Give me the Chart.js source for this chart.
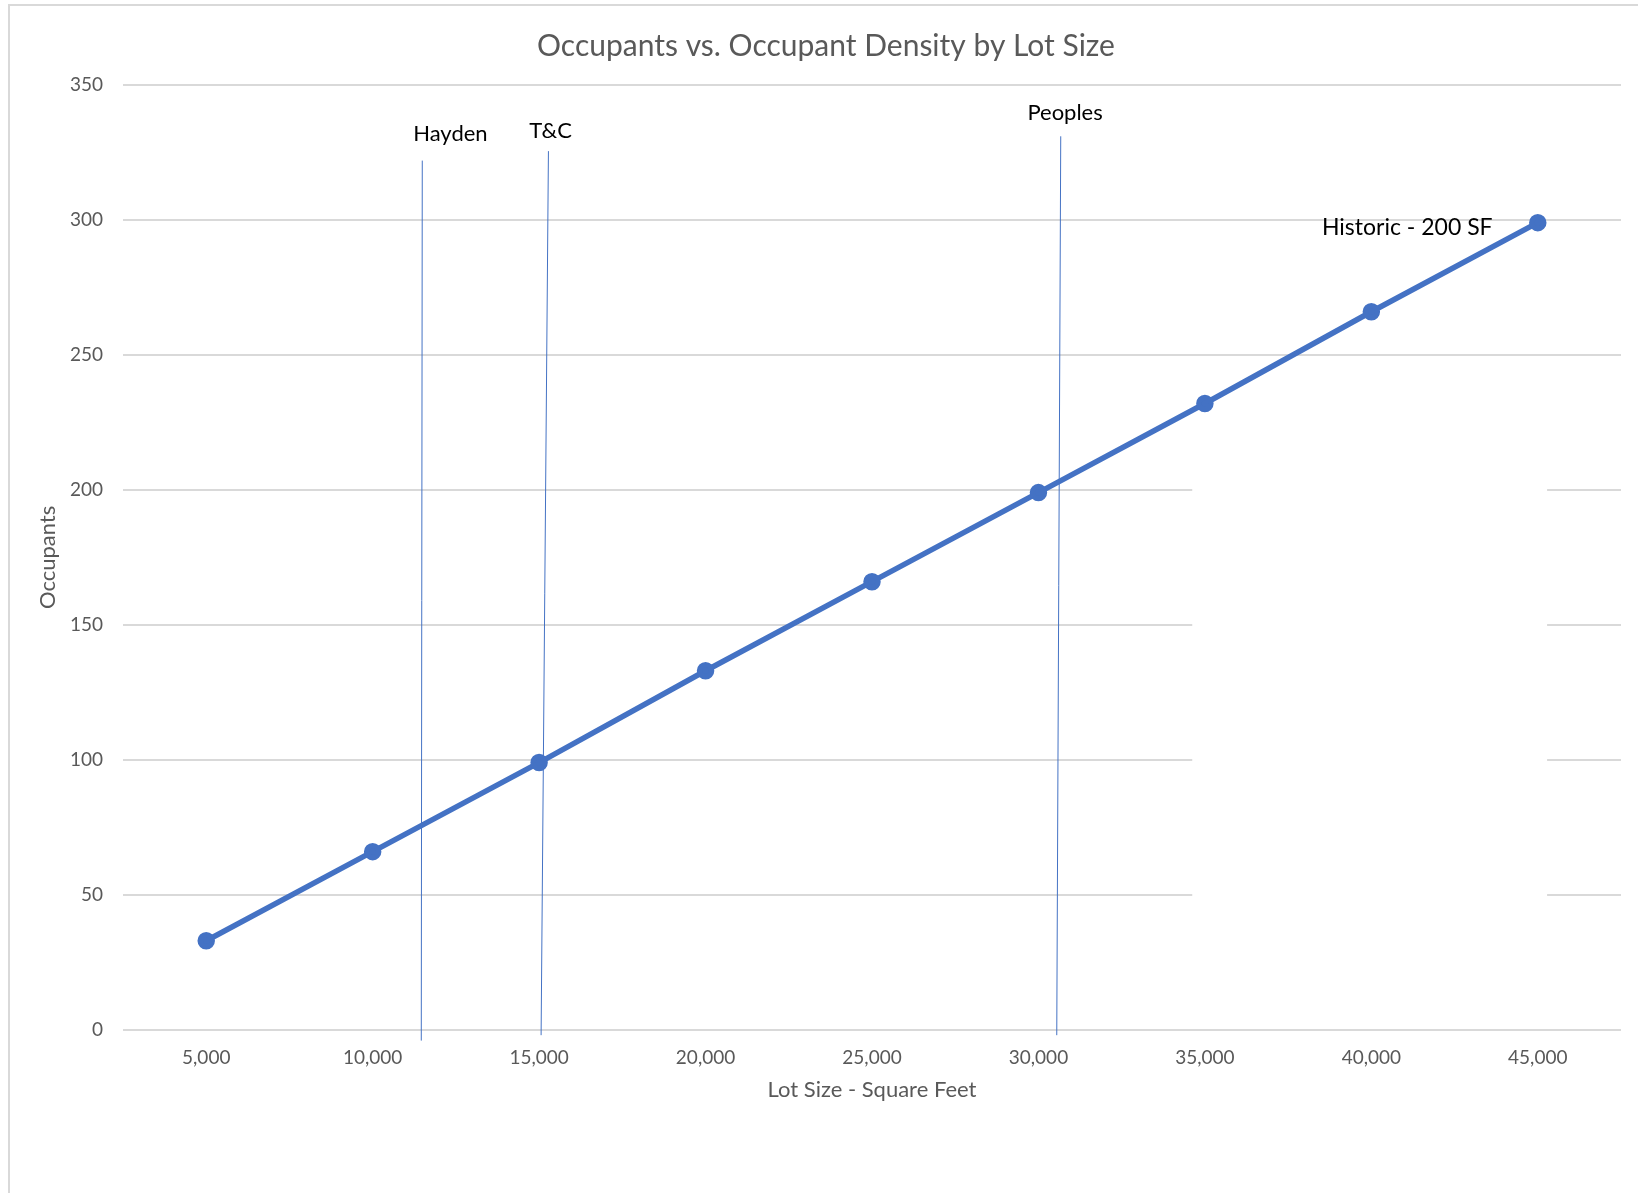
<!DOCTYPE html>
<html lang="en">
<head>
  <meta charset="UTF-8" />
  <title>Occupants vs. Occupant Density by Lot Size</title>
  <script src="https://cdn.jsdelivr.net/npm/chart.js"></script>
  <style>
    html, body {
      margin: 0;
      padding: 0;
      background: white;
      overflow: hidden;
    }
    .wrap {
      position: relative;
      width: 1638px;
      height: 1193px;
    }
    .frame {
      position: absolute;
      left: 8px;
      top: 4px;
      width: 1700px;
      height: 1300px;
      border-left: 2px solid #d9d9d9;
      border-top: 2px solid #d9d9d9;
      pointer-events: none;
    }
  </style>
</head>
<body>
  <div class="wrap">
    <canvas id="lotChart" width="1638" height="1193"></canvas>
    <div class="frame"></div>
  </div>

  <script>
    const lotSizes = [5000, 10000, 15000, 20000, 25000, 30000, 35000, 40000, 45000];
    const occupants = [33, 66, 99, 133, 166, 199, 232, 266, 299];

    // hand drawn marker lines (top and bottom ends, in chart units)
    const markerNames = ["Hayden", "T&C", "Peoples"];
    const markerTopX = [11490, 15280, 30670];
    const markerTopY = [322, 325.5, 331];
    const markerBottomX = [11460, 15060, 30550];
    const markerBottomY = [-4, -2, -2];
    const markerLabelX = [12335, 15345, 30800];
    const markerLabelY = [331.8, 333, 339.5];

    const seriesLabel = "Historic - 200 SF";
    const seriesLabelX = 41080;
    const seriesLabelY = 297;

    // blank area left in the plot (a removed box), chart units
    const blankX = [34620, 45280];
    const blankY = [42, 208];

    const textGray = "#595959";
    const blue = "#4472C4";
    const fontFamily = "Lato, 'Noto Sans', sans-serif";

    const markerSets = markerNames.map((name, i) => ({
      type: "line",
      label: name,
      data: [
        { x: markerBottomX[i], y: markerBottomY[i] },
        { x: markerTopX[i], y: markerTopY[i] }
      ],
      borderColor: blue,
      borderWidth: 1,
      pointRadius: 0,
      clip: false,
      order: 2
    }));

    // white box over the grid, then the text boxes on top
    const labelPlugin = {
      id: "textBoxes",
      beforeDatasetsDraw(chart) {
        const { ctx, scales } = chart;
        const x0 = scales.x.getPixelForValue(blankX[0]);
        const x1 = scales.x.getPixelForValue(blankX[1]);
        const y0 = scales.y.getPixelForValue(blankY[1]);
        const y1 = scales.y.getPixelForValue(blankY[0]);
        ctx.save();
        ctx.fillStyle = "#ffffff";
        ctx.fillRect(x0, y0, x1 - x0, y1 - y0);
        ctx.restore();
      },
      afterDatasetsDraw(chart) {
        const { ctx, scales } = chart;
        ctx.save();
        ctx.fillStyle = "#000000";
        ctx.textAlign = "center";
        ctx.textBaseline = "middle";
        ctx.font = "22px " + fontFamily;
        markerNames.forEach((name, i) => {
          ctx.fillText(name, scales.x.getPixelForValue(markerLabelX[i]), scales.y.getPixelForValue(markerLabelY[i]));
        });
        ctx.font = "23px " + fontFamily;
        ctx.fillText(seriesLabel, scales.x.getPixelForValue(seriesLabelX), scales.y.getPixelForValue(seriesLabelY));
        ctx.restore();
      }
    };

    const ctx = document.getElementById("lotChart").getContext("2d");
    const chart = new Chart(ctx, {
      type: "line",
      data: {
        datasets: [
          {
            label: seriesLabel,
            data: lotSizes.map((x, i) => ({ x: x, y: occupants[i] })),
            borderColor: blue,
            backgroundColor: blue,
            borderWidth: 5.5,
            pointRadius: 6,
            pointHoverRadius: 6,
            order: 1
          },
          ...markerSets
        ]
      },
      options: {
        responsive: false,
        animation: false,
        layout: {
          padding: { left: 31, right: 17, top: 0, bottom: 90 }
        },
        plugins: {
          legend: { display: false },
          tooltip: { enabled: false },
          title: {
            display: true,
            text: "Occupants vs. Occupant Density by Lot Size",
            color: textGray,
            font: { family: fontFamily, size: 30, weight: "normal" },
            padding: { top: 28, bottom: 21 }
          }
        },
        scales: {
          x: {
            type: "linear",
            min: 2500,
            max: 47500,
            afterBuildTicks(axis) {
              axis.ticks = lotSizes.map(v => ({ value: v }));
            },
            grid: { display: false, drawTicks: false },
            border: { display: false },
            ticks: {
              color: textGray,
              font: { family: fontFamily, size: 19 },
              padding: 17,
              callback: v => v.toLocaleString("en-US")
            },
            title: {
              display: true,
              text: "Lot Size - Square Feet",
              color: textGray,
              font: { family: fontFamily, size: 22 },
              padding: { top: -10, bottom: 0 }
            }
          },
          y: {
            min: 0,
            max: 350,
            afterFit(axis) {
              axis.width = 92;
            },
            ticks: {
              stepSize: 50,
              color: textGray,
              font: { family: fontFamily, size: 19 },
              padding: 20
            },
            grid: { color: "#d9d9d9", lineWidth: 2, drawTicks: false },
            border: { display: false },
            title: {
              display: true,
              text: "Occupants",
              color: textGray,
              font: { family: fontFamily, size: 22 },
              padding: { top: 4, bottom: 0 }
            }
          }
        }
      },
      plugins: [labelPlugin]
    });
  </script>
</body>
</html>
